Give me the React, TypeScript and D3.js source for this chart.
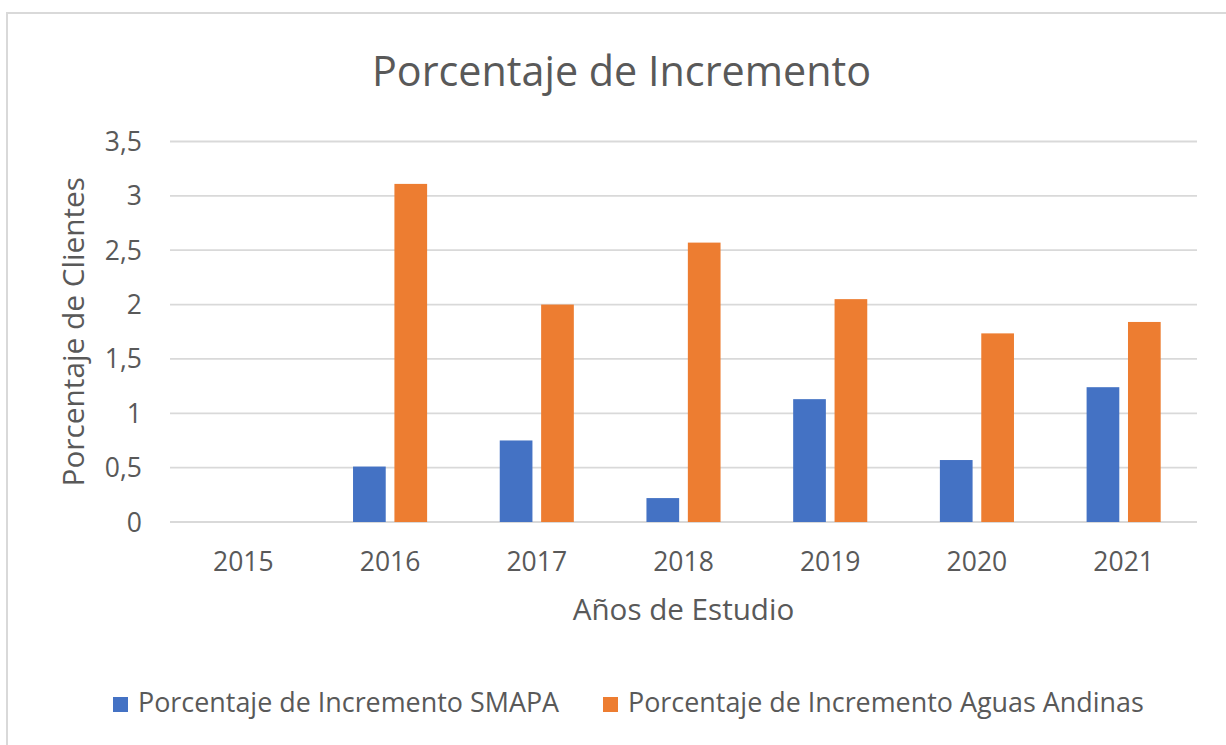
import React from "react";
import * as d3 from "d3";

const years = ["2015", "2016", "2017", "2018", "2019", "2020", "2021"];
const seriesNames = [
  "Porcentaje de Incremento SMAPA",
  "Porcentaje de Incremento Aguas Andinas",
];
const smapa = [0, 0.51, 0.75, 0.22, 1.13, 0.57, 1.24];
const aguasAndinas = [0, 3.11, 2.0, 2.57, 2.05, 1.735, 1.84];
const yTicks = [0, 0.5, 1, 1.5, 2, 2.5, 3, 3.5];
const colors = ["#4472C4", "#ED7D31"];

const W = 1226;
const H = 745;
const FONT = "'Open Sans', sans-serif";
const TEXT = "#595959";

export default function App() {
  const left = 170;
  const right = 1197;
  const top = 141.5;
  const bottom = 522;

  const x0 = d3.scaleBand<string>().domain(years).range([left, right]).paddingInner(0).paddingOuter(0);
  const groupW = x0.bandwidth() * 0.505;
  const x1 = d3.scaleBand<string>().domain(seriesNames).range([0, groupW]).paddingInner(0.21).paddingOuter(0);
  const y = d3.scaleLinear().domain([0, 3.5]).range([bottom, top]);
  const fmt = (v: number) => String(v).replace(".", ",");
  const seriesValues = [smapa, aguasAndinas];

  return (
    <svg
      width={W}
      height={H}
      style={{ position: "absolute", left: 0, top: 0, background: "#fff" }}
      fontFamily={FONT}
    >
      <rect x={0} y={0} width={W} height={H} fill="#fff" />
      <rect x={7} y={13} width={W + 20} height={H + 20} fill="#fff" stroke="#d9d9d9" strokeWidth={2} />
      <text x={621.5} y={86} textAnchor="middle" fontSize={41.3} fill={TEXT}>
        Porcentaje de Incremento
      </text>

      {yTicks.map((t) => (
        <g key={t}>
          <line x1={left} x2={right} y1={y(t)} y2={y(t)} stroke="#d9d9d9" strokeWidth={1.8} />
          <text x={142} y={y(t)} dy="0.36em" textAnchor="end" fontSize={26.5} fill={TEXT}>
            {fmt(t)}
          </text>
        </g>
      ))}

      {years.map((yr, i) => {
        const bx = (x0(yr) as number) + (x0.bandwidth() - groupW) / 2;
        return (
          <g key={yr}>
            {seriesNames.map((s, j) => {
              const v = seriesValues[j][i];
              return (
                <rect
                  key={s}
                  x={bx + (x1(s) as number)}
                  y={y(v)}
                  width={x1.bandwidth()}
                  height={bottom - y(v)}
                  fill={colors[j]}
                />
              );
            })}
            <text
              x={(x0(yr) as number) + x0.bandwidth() / 2}
              y={571}
              textAnchor="middle"
              fontSize={26.5}
              fill={TEXT}
            >
              {yr}
            </text>
          </g>
        );
      })}

      <text x={(left + right) / 2} y={620} textAnchor="middle" fontSize={29.6} fill={TEXT}>
        Años de Estudio
      </text>
      <text
        transform={`translate(84, ${(top + bottom) / 2}) rotate(-90)`}
        textAnchor="middle"
        fontSize={29.8}
        fill={TEXT}
      >
        Porcentaje de Clientes
      </text>

      {seriesNames.map((s, j) => {
        const lx = j === 0 ? 113 : 603;
        return (
          <g key={s}>
            <rect x={lx} y={697} width={15} height={15} fill={colors[j]} />
            <text x={lx + 25} y={712} fontSize={26.9} fill={TEXT}>
              {s}
            </text>
          </g>
        );
      })}
    </svg>
  );
}
